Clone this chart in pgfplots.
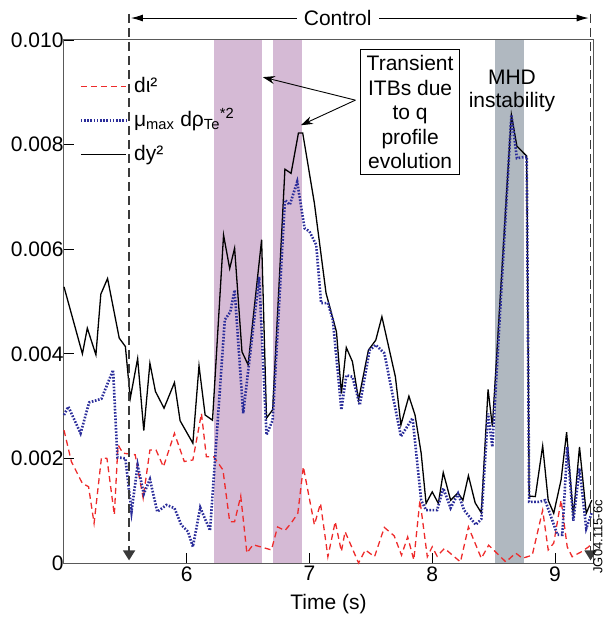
\documentclass[border=0pt]{standalone}
\usepackage{pgfplots}
\pgfplotsset{compat=1.18}
\usepackage{fontspec}
\setmainfont{Liberation Sans}
\usetikzlibrary{arrows.meta}
\definecolor{bandpurple}{HTML}{D5BAD5}
\definecolor{bandgray}{HTML}{B0B8C0}
\definecolor{dred}{HTML}{EE2B2B}
\definecolor{dblue}{HTML}{2B2D9A}
\definecolor{ctrl}{HTML}{3A3A3A}
\begin{document}
\begin{tikzpicture}
\useasboundingbox (-64pt,-55pt) rectangle (541pt,563pt);
\begin{axis}[
  scale only axis, width=529pt, height=523pt,
  xmin=5, xmax=9.31, ymin=0, ymax=0.010,
  xtick={6,7,8,9}, xticklabels={6,7,8,9},
  ytick={0,0.002,0.004,0.006,0.008,0.010},
  yticklabels={0,0.002,0.004,0.006,0.008,0.010},
  scaled y ticks=false,
  tick align=inside, xtick pos=bottom, ytick pos=left,
  major tick length=10pt,
  tick style={black, line width=0.8pt},
  axis line style={gray!70!black, line width=1pt},
  font=\fontsize{21}{25}\selectfont,
  ticklabel style={font=\fontsize{21}{25}\selectfont},
  yticklabel style={xshift=3pt},
  /pgf/number format/assume math mode=true,
  xlabel={Time (s)},
  xlabel style={at={(axis description cs:0.5,0)}, anchor=center, yshift=-41pt},
  clip=false,
  legend style={at={(axis cs:5.10,0.00939)}, anchor=north west, draw=none, fill=none,
    font=\fontsize{21}{25}\selectfont, row sep=9pt,
    nodes={text height=16pt, text depth=5pt}},
  legend cell align=left,
  legend image code/.code={\draw[#1] (0pt,0pt) -- (45pt,0pt); \path (50pt,0pt);},
]
% shaded intervals
\addplot[fill=bandpurple, draw=none, forget plot] coordinates {(6.22,0) (6.22,0.010) (6.61,0.010) (6.61,0)} -- cycle;
\addplot[fill=bandpurple, draw=none, forget plot] coordinates {(6.70,0) (6.70,0.010) (6.94,0.010) (6.94,0)} -- cycle;
\addplot[fill=bandgray, draw=none, forget plot] coordinates {(8.51,0) (8.51,0.010) (8.75,0.010) (8.75,0)} -- cycle;

\addlegendimage{dred, line width=1.3pt, dash pattern=on 6pt off 4pt}
\addlegendentry{dι²}
\addlegendimage{dblue, line width=2.6pt, dash pattern=on 1.6pt off 1.6pt}
\addlegendentry{μ\textsubscript{max} dρ\textsubscript{Te}\textsuperscript{*2}}
\addlegendimage{black, line width=1.3pt}
\addlegendentry{dy²}

% d iota^2
\addplot[dred, line width=1.3pt, dash pattern=on 6pt off 4pt, forget plot] table {
x y
5.00 2.54e-3
5.06 1.94e-3
5.15 1.52e-3
5.20 1.46e-3
5.245 0.76e-3
5.305 2.01e-3
5.35 2.00e-3
5.41 0.92e-3
5.44 2.26e-3
5.48 2.10e-3
5.58 2.07e-3
5.645 1.24e-3
5.70 2.16e-3
5.75 2.16e-3
5.81 1.84e-3
5.90 2.48e-3
5.98 1.94e-3
6.05 1.97e-3
6.12 2.86e-3
6.16 2.03e-3
6.22 2.03e-3
6.295 1.78e-3
6.35 0.79e-3
6.39 0.79e-3
6.44 1.28e-3
6.49 0.19e-3
6.54 0.35e-3
6.69 0.25e-3
6.74 0.69e-3
6.80 0.62e-3
6.85 0.76e-3
6.905 0.95e-3
6.95 1.84e-3
7.04 0.73e-3
7.09 1.14e-3
7.15 0.12e-3
7.21 0.79e-3
7.26 0.22e-3
7.29 0.60e-3
7.40 0.00
7.455 0.25e-3
7.53 0.12e-3
7.61 0.68e-3
7.69 0.52e-3
7.75 0.15e-3
7.80 0.50e-3
7.85 0.06e-3
7.90 1.20e-3
7.96 0.12e-3
8.00 0.31e-3
8.04 0.13e-3
8.10 0.28e-3
8.23 0.02e-3
8.295 0.69e-3
8.40 0.09e-3
8.46 0.34e-3
8.60 0.02e-3
8.68 0.19e-3
8.735 0.09e-3
8.815 0.15e-3
8.90 1.01e-3
8.945 0.25e-3
8.99 0.38e-3
9.05 1.20e-3
9.10 0.31e-3
9.14 0.12e-3
9.22 0.22e-3
9.275 0.31e-3
9.30 0.38e-3
};

% dy^2
\addplot[black, line width=1.3pt, forget plot] table {
x y
5.00 5.28e-3
5.15 4.00e-3
5.19 4.49e-3
5.26 3.98e-3
5.30 5.14e-3
5.355 5.44e-3
5.45 4.30e-3
5.50 4.14e-3
5.54 3.15e-3
5.60 3.91e-3
5.65 2.53e-3
5.70 3.82e-3
5.745 3.28e-3
5.815 2.96e-3
5.90 3.45e-3
5.946 2.72e-3
6.05 2.29e-3
6.10 3.77e-3
6.15 2.83e-3
6.21 2.73e-3
6.30 6.27e-3
6.35 5.63e-3
6.39 6.02e-3
6.45 4.04e-3
6.50 3.79e-3
6.61 6.18e-3
6.65 2.77e-3
6.70 2.93e-3
6.80 7.53e-3
6.85 7.45e-3
6.91 8.22e-3
6.945 8.22e-3
7.04 6.88e-3
7.135 5.16e-3
7.22 4.42e-3
7.26 3.24e-3
7.30 4.12e-3
7.35 3.85e-3
7.40 3.12e-3
7.48 4.07e-3
7.54 4.26e-3
7.59 4.71e-3
7.70 3.56e-3
7.745 2.64e-3
7.81 3.19e-3
7.86 2.83e-3
7.91 2.10e-3
7.95 1.14e-3
8.00 1.36e-3
8.05 1.14e-3
8.09 1.73e-3
8.15 1.20e-3
8.21 1.34e-3
8.25 1.20e-3
8.295 1.67e-3
8.35 1.15e-3
8.40 0.96e-3
8.455 3.32e-3
8.49 2.61e-3
8.645 8.57e-3
8.69 7.97e-3
8.77 7.78e-3
8.79 1.28e-3
8.84 1.27e-3
8.90 2.24e-3
8.945 1.20e-3
8.99 0.95e-3
9.05 1.59e-3
9.095 2.50e-3
9.15 0.90e-3
9.20 2.22e-3
9.255 0.95e-3
9.30 1.20e-3
};

% mu_max d rho_Te*^2
\addplot[dblue, line width=2.6pt, dash pattern=on 1.6pt off 1.6pt, forget plot] table {
x y
5.00 2.83e-3
5.035 2.99e-3
5.135 2.48e-3
5.205 3.07e-3
5.305 3.14e-3
5.40 3.69e-3
5.435 2.02e-3
5.50 2.00e-3
5.55 0.98e-3
5.60 1.87e-3
5.65 1.32e-3
5.70 1.60e-3
5.76 0.98e-3
5.835 1.11e-3
5.90 1.05e-3
5.955 0.73e-3
6.01 0.60e-3
6.05 0.31e-3
6.11 1.06e-3
6.15 0.84e-3
6.19 0.62e-3
6.31 4.65e-3
6.355 4.80e-3
6.39 5.22e-3
6.46 2.86e-3
6.59 5.47e-3
6.65 2.45e-3
6.70 2.73e-3
6.80 6.94e-3
6.84 6.85e-3
6.90 7.29e-3
6.96 6.40e-3
7.00 6.34e-3
7.055 6.08e-3
7.095 4.97e-3
7.15 4.97e-3
7.19 4.65e-3
7.26 2.93e-3
7.30 3.59e-3
7.35 3.56e-3
7.41 3.02e-3
7.49 4.07e-3
7.54 4.17e-3
7.61 4.01e-3
7.745 2.42e-3
7.84 2.77e-3
7.91 1.20e-3
7.95 1.01e-3
8.04 1.01e-3
8.09 1.43e-3
8.15 1.05e-3
8.21 1.33e-3
8.26 1.01e-3
8.355 0.73e-3
8.40 0.84e-3
8.455 2.86e-3
8.49 2.22e-3
8.645 8.57e-3
8.69 7.74e-3
8.77 7.77e-3
8.79 1.17e-3
8.87 1.17e-3
8.92 1.20e-3
9.02 0.54e-3
9.06 0.54e-3
9.10 2.22e-3
9.15 0.81e-3
9.20 1.81e-3
9.255 0.66e-3
9.30 0.96e-3
};

% Control markers
\draw[ctrl, line width=1.8pt, dash pattern=on 9pt off 5pt, -{Triangle[length=10pt,width=12pt]}] (axis cs:5.53,0.01050) -- (axis cs:5.53,0.00005);
\draw[ctrl, line width=1.8pt, dash pattern=on 9pt off 5pt, -{Triangle[length=10pt,width=12pt]}] (axis cs:9.29,0.01050) -- (axis cs:9.29,0.00005);
\draw[black, line width=1pt, {Latex[length=12pt,width=7pt]}-{Latex[length=12pt,width=7pt]}] (axis cs:5.545,0.01042) -- (axis cs:9.275,0.01042);
\node[fill=white, inner sep=7pt, font=\fontsize{21}{25}\selectfont] at (axis cs:7.23,0.01042) {Control};

% annotations
\node[draw=black, line width=0.8pt, fill=white, align=center, inner sep=6pt,
      font=\fontsize{21}{24.5}\selectfont] at (axis cs:7.82,0.00862)
  {Transient\\ITBs due\\to q\\profile\\evolution};
\draw[line width=0.9pt, -{Stealth[length=12pt,width=8pt]}] (axis cs:7.374,0.00885) -- (axis cs:6.62,0.00929);
\draw[line width=0.9pt, -{Stealth[length=12pt,width=8pt]}] (axis cs:7.374,0.00885) -- (axis cs:6.93,0.00837);
\node[align=center, font=\fontsize{21}{23}\selectfont] at (axis cs:8.65,0.00902) {MHD\\instability};
\node[rotate=90, font=\fontsize{13}{15}\selectfont] at (axis cs:9.35,0.00050) {JG04.115-6c};
\end{axis}
\end{tikzpicture}
\end{document}
